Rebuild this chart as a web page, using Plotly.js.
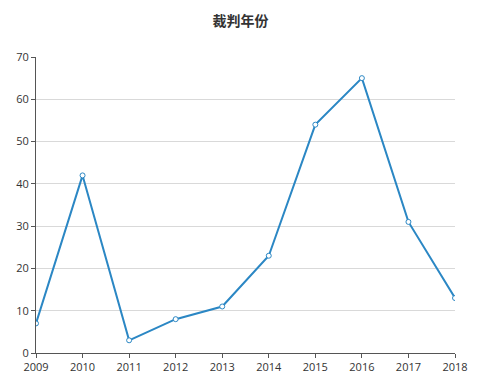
<!DOCTYPE html>
<html><head><meta charset="utf-8">
<script src="https://cdn.plot.ly/plotly-3.0.1.min.js"></script>
<style>html,body{margin:0;padding:0;background:#fff}#c{width:481px;height:381px}</style>
</head><body><div id="c"></div>
<script>
var years = [2009, 2010, 2011, 2012, 2013, 2014, 2015, 2016, 2017, 2018];
var counts = [7, 42, 3, 8, 11, 23, 54, 65, 31, 13];
var tickLabels = ['2009','2010','2011','2012','2013','2014','2015','2016','2017','2018'];

Plotly.newPlot('c', [{
  x: years, y: counts, type: 'scatter', mode: 'lines+markers',
  line: {color: '#2b87c4', width: 2},
  marker: {symbol: 'circle', size: 5, color: '#ffffff', line: {color: '#2b87c4', width: 1}},
  hoverinfo: 'none'
}], {
  width: 481, height: 381,
  margin: {l: 36, r: 26, t: 57, b: 28},
  paper_bgcolor: '#fff', plot_bgcolor: '#fff',
  font: {family: 'Open Sans, Noto Sans CJK SC, sans-serif', size: 11, color: '#333'},
  title: {text: '<b>裁判年份</b>', x: 0.5, xanchor: 'center', y: 0.945, yanchor: 'middle',
          font: {family: 'Noto Sans CJK SC, sans-serif', size: 14, color: '#333'}},
  showlegend: false,
  xaxis: {range: [2009, 2018], tickvals: years, ticktext: tickLabels, showgrid: false, zeroline: false,
          showline: true, linecolor: '#555', linewidth: 1, ticks: 'outside', ticklen: 4, tickcolor: '#555'},
  yaxis: {range: [0, 70], dtick: 10, showgrid: true, gridcolor: '#d9d9d9', zeroline: false,
          showline: true, linecolor: '#555', linewidth: 1, ticks: 'outside', ticklen: 4, tickcolor: '#555'}
}, {displayModeBar: false, staticPlot: true});
</script></body></html>
